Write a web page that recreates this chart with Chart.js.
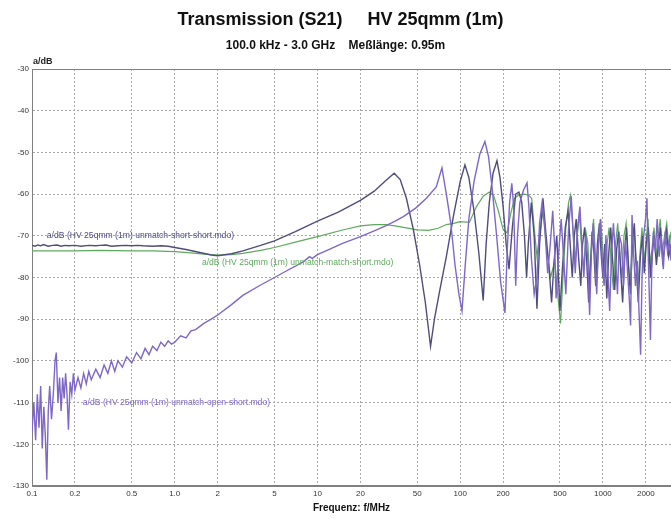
<!DOCTYPE html>
<html>
<head>
<meta charset="utf-8">
<script src="https://cdn.jsdelivr.net/npm/chart.js@4.4.0/dist/chart.umd.min.js"></script>
<style>
html, body { margin: 0; padding: 0; background: #fff; }
#wrap { width: 671px; height: 519px; }
</style>
</head>
<body>
<div id="wrap"><canvas id="s21Chart"></canvas></div>
<script>
// x ticks (MHz, log scale)
const xTickValues = [0.1, 0.2, 0.5, 1, 2, 5, 10, 20, 50, 100, 200, 500, 1000, 2000];
const xTickLabels = ['0.1', '0.2', '0.5', '1.0', '2', '5', '10', '20', '50', '100', '200', '500', '1000', '2000'];

// unmatch-short-short
const ssFreq = [0.1, 0.105, 0.11, 0.115, 0.12, 0.13, 0.14, 0.15, 0.16, 0.17,
    0.18, 0.2, 0.22, 0.25, 0.28, 0.3, 0.33, 0.36, 0.4, 0.45,
    0.5, 0.55, 0.6, 0.7, 0.8, 0.9, 1.0, 1.2, 1.5, 1.8,
    2.0, 2.5, 3, 4, 5, 7, 10, 14, 20, 25,
    30, 34.5, 38, 42, 47, 52, 57, 62, 66, 72,
    80, 90, 100, 108, 115, 125, 135, 145, 152, 160,
    170, 181, 190, 200, 210, 220, 232, 245, 258, 270,
    282, 292, 300, 315, 330, 345, 360, 380, 400, 420,
    437, 455, 475, 500, 520, 545, 570, 590, 610, 630,
    650, 675, 700, 720, 745, 770, 795, 815, 840, 865,
    890, 915, 945, 975, 1000, 1030, 1065, 1100, 1135, 1170,
    1210, 1250, 1290, 1330, 1375, 1420, 1465, 1510, 1560, 1610,
    1660, 1715, 1770, 1830, 1890, 1950, 2010, 2080, 2150, 2220,
    2290, 2370, 2450, 2530, 2620, 2700, 2790, 2890, 3000];
const ssDb = [-72.3, -72.5, -72.2, -72.4, -72.1, -72.5, -72.3, -72.2, -72.5, -72.3,
    -72.4, -72.3, -72.5, -72.3, -72.4, -72.3, -72.2, -72.5, -72.4, -72.3,
    -72.4, -72.3, -72.4, -72.5, -72.4, -72.5, -72.8, -73.3, -74.0, -74.6,
    -74.8, -74.3, -73.6, -72.3, -71.2, -69.0, -66.5, -64.3, -61.5, -59.3,
    -56.8, -55.0, -56.5, -61, -68.5, -77, -86, -96.5, -90, -83,
    -75, -65, -57, -53, -56, -64, -74, -85.5, -72, -62,
    -55, -52, -56, -63, -72, -78, -68, -60, -59.5, -62,
    -70, -80, -72, -62, -70, -87.5, -72, -61, -70, -78,
    -86, -76, -70, -88, -78, -68, -64, -72, -80, -70,
    -66, -75, -82, -72, -68, -76, -86, -78, -69, -74,
    -82, -72, -67, -75, -80, -72, -85, -74, -68, -76,
    -83, -73, -69, -78, -86, -74, -68, -77, -84, -72,
    -67, -78, -86, -75, -70, -79, -72, -68, -80, -74,
    -70, -77, -72, -68, -76, -73, -69, -75, -72];

// unmatch-match-short
const msFreq = [0.1, 0.2, 0.3, 0.5, 0.7, 1.0, 1.3, 1.6, 2.0, 2.5,
    3, 4, 5, 7, 10, 15, 20, 25, 30, 35,
    40, 50, 60, 70, 80, 90, 100, 116, 130, 145,
    160, 172, 185, 200, 213, 225, 240, 258, 280, 300,
    317, 330, 345, 360, 380, 400, 430, 460, 485, 505,
    525, 550, 575, 594, 615, 640, 660, 685, 710, 735,
    760, 785, 810, 835, 860, 885, 910, 940, 970, 1000,
    1035, 1070, 1105, 1145, 1185, 1225, 1270, 1315, 1360, 1405,
    1455, 1500, 1550, 1600, 1650, 1700, 1760, 1820, 1880, 1940,
    2000, 2070, 2140, 2210, 2280, 2360, 2440, 2520, 2610, 2700,
    2800, 2900, 3000];
const msDb = [-73.6, -73.6, -73.5, -73.6, -73.6, -73.8, -74.1, -74.4, -74.6, -74.5,
    -74.2, -73.5, -72.8, -71.5, -70.2, -68.6, -67.6, -67.3, -67.3, -67.6,
    -68.0, -68.6, -68.7, -68.2, -67.3, -67, -66.6, -66.8, -63, -60.5,
    -59.5, -60.5, -64, -68.5, -69.3, -65, -61, -60.2, -60, -60.2,
    -61, -68, -75, -70, -64, -72, -80, -76, -85, -91,
    -80, -68, -62, -60.2, -68, -76, -70, -65, -73, -78,
    -69, -72, -82, -72, -66, -74, -80, -70, -67, -74,
    -80, -72, -68, -77, -83, -72, -67, -75, -80, -70,
    -67, -76, -82, -72, -68, -75, -82, -74, -68, -76,
    -72, -66, -77, -73, -68, -75, -70, -66, -74, -70,
    -67, -73, -69];

// unmatch-open-short
const osFreq = [0.1, 0.103, 0.106, 0.109, 0.112, 0.115, 0.118, 0.121, 0.124, 0.127,
    0.13, 0.133, 0.137, 0.141, 0.145, 0.148, 0.152, 0.156, 0.16, 0.164,
    0.168, 0.172, 0.176, 0.18, 0.185, 0.19, 0.195, 0.2, 0.21, 0.22,
    0.23, 0.24, 0.25, 0.26, 0.28, 0.3, 0.32, 0.34, 0.36, 0.38,
    0.4, 0.43, 0.46, 0.5, 0.54, 0.58, 0.62, 0.66, 0.7, 0.75,
    0.8, 0.85, 0.9, 0.95, 1.0, 1.1, 1.2, 1.3, 1.4, 1.6,
    1.8, 2.0, 2.5, 3, 4, 5, 6, 7, 8, 8.8,
    9.2, 10, 12, 15, 20, 25, 30, 35, 40, 49,
    58, 68, 74.5, 80, 86, 92, 98, 103, 108, 115,
    125, 137, 149, 158, 168, 180, 192, 206, 214, 222,
    230, 237, 245, 252, 262, 278, 294, 303, 315, 330,
    345, 360, 375, 392, 410, 428, 445, 458, 470, 490,
    510, 530, 550, 575, 600, 620, 640, 665, 690, 712,
    735, 760, 785, 807, 830, 855, 880, 905, 930, 960,
    990, 1020, 1050, 1080, 1115, 1150, 1185, 1225, 1265, 1305,
    1350, 1395, 1440, 1490, 1530, 1563, 1600, 1640, 1690, 1740,
    1790, 1837, 1880, 1930, 1990, 2035, 2080, 2120, 2153, 2200,
    2260, 2330, 2400, 2480, 2560, 2650, 2740, 2840, 2930, 3000];
const osDb = [-117, -110, -119, -108, -116, -106, -121, -111, -118, -128.5,
    -112, -106, -114, -108, -100, -98, -110, -104, -112, -104,
    -109, -103, -108, -116.5, -105, -108, -103, -107, -104, -106.5,
    -103, -105.5, -102.5, -104.5, -102, -104, -101, -103, -100, -102.5,
    -100, -101.5, -99, -100.5, -98, -99.5, -97, -98.5, -96.5, -97.5,
    -95.5, -96.5, -95.2, -96, -95.5, -94, -94.5, -92.8, -92.5, -91,
    -90, -89, -86.5, -84.3, -81.8, -80, -78.5, -77.3, -76.2, -75,
    -75.4, -74.5, -73.3, -71.8, -70.2, -68.8, -67.6, -66.5, -65.4, -63.3,
    -61, -58.3, -53.7, -60, -67, -77, -84, -88, -78, -66,
    -57, -50.5, -47.4, -51, -59, -70, -81, -88.5, -73, -62,
    -57.4, -63, -82, -70, -62, -59, -57.3, -63, -75, -84,
    -80, -67, -62, -68, -79, -72, -64, -72, -85, -74,
    -66, -75, -84, -68, -60.5, -70, -79, -68, -63, -72,
    -80, -70, -76, -89, -74, -67, -76, -84, -72, -66,
    -76, -82, -70, -78, -88, -74, -67, -75, -84, -70,
    -72, -82, -71, -79, -85, -91.5, -65, -74, -82, -76,
    -88, -98.5, -80, -70, -66, -61, -75, -86, -95, -78,
    -69, -74, -66, -75, -70, -78, -69, -74, -71, -76];

const toPoints = (freq, db) => freq.map((f, i) => ({ x: f, y: db[i] }));

const colShort = '#4f4d7c';
const colMatch = '#5fa95f';
const colOpen = '#7f67c6';
const smallFont = "'Liberation Sans Narrow', 'Liberation Sans', Arial, sans-serif";
const textFont = "'Liberation Sans', Arial, sans-serif";

// series labels written inside the plot (anchored in data space)
const seriesNotes = [
    { text: 'a/dB (HV 25qmm (1m) unmatch-short-short.mdo)', f: 0.127, db: -70, color: colShort },
    { text: 'a/dB (HV 25qmm (1m) unmatch-match-short.mdo)', f: 1.55, db: -76.5, color: colMatch },
    { text: 'a/dB (HV 25qmm (1m) unmatch-open-short.mdo)', f: 0.227, db: -110, color: colOpen }
];

const chartAreaBorder = {
    id: 'chartAreaBorder',
    beforeDatasetsDraw(chart) {
        const { ctx, chartArea: { left, top, width, height } } = chart;
        ctx.save();
        ctx.strokeStyle = '#808080';
        ctx.lineWidth = 1;
        ctx.strokeRect(left + 0.5, top + 0.5, width, height - 1);
        ctx.restore();
    }
};

const notesPlugin = {
    id: 'seriesNotes',
    afterDatasetsDraw(chart) {
        const { ctx, chartArea, scales: { x, y } } = chart;
        ctx.save();
        ctx.textBaseline = 'middle';
        ctx.textAlign = 'left';
        ctx.font = '8.6px ' + textFont;
        seriesNotes.forEach(n => {
            ctx.fillStyle = n.color;
            ctx.fillText(n.text, x.getPixelForValue(n.f), y.getPixelForValue(n.db));
        });
        // unit label above the y axis
        ctx.fillStyle = '#222';
        ctx.font = 'bold 9px ' + textFont;
        ctx.fillText('a/dB', chartArea.left + 1, chartArea.top - 7);
        ctx.restore();
    }
};

new Chart(document.getElementById('s21Chart'), {
    type: 'line',
    data: {
        datasets: [
            {
                label: seriesNotes[2].text,
                data: toPoints(osFreq, osDb),
                borderColor: colOpen,
                borderWidth: 1.4,
                pointRadius: 0,
                tension: 0
            },
            {
                label: seriesNotes[0].text,
                data: toPoints(ssFreq, ssDb),
                borderColor: colShort,
                borderWidth: 1.4,
                pointRadius: 0,
                tension: 0
            },
            {
                label: seriesNotes[1].text,
                data: toPoints(msFreq, msDb),
                borderColor: colMatch,
                borderWidth: 1.2,
                pointRadius: 0,
                tension: 0
            }
        ]
    },
    options: {
        responsive: true,
        maintainAspectRatio: false,
        animation: false,
        layout: { padding: { left: 0, right: 0, top: 0, bottom: 0 } },
        plugins: {
            legend: { display: false },
            tooltip: { enabled: false },
            title: {
                display: true,
                text: '  Transmission (S21)     HV 25qmm (1m)',
                color: '#111',
                font: { size: 18, weight: 'bold', family: textFont },
                padding: { top: 9, bottom: 7 }
            },
            subtitle: {
                display: true,
                text: '100.0 kHz - 3.0 GHz    Meßlänge: 0.95m',
                color: '#111',
                font: { size: 12, weight: 'bold', family: textFont },
                padding: { top: 1, bottom: 16 }
            }
        },
        scales: {
            x: {
                type: 'logarithmic',
                min: 0.1,
                max: 3000,
                afterBuildTicks: (axis) => {
                    axis.ticks = xTickValues.map(v => ({ value: v }));
                },
                afterFit: (scale) => { scale.height = 33; },
                ticks: {
                    autoSkip: false,
                    maxRotation: 0,
                    minRotation: 0,
                    padding: 3,
                    color: '#333',
                    font: { size: 8, family: smallFont },
                    callback: (value, index) => xTickLabels[index]
                },
                grid: { color: '#a8a8a8', drawTicks: false, lineWidth: 1 },
                border: { display: true, color: '#808080', dash: [2, 2] },
                title: {
                    display: true,
                    text: 'Frequenz: f/MHz',
                    color: '#111',
                    font: { size: 10, weight: 'bold', family: textFont },
                    padding: { top: 0, bottom: 5 }
                }
            },
            y: {
                min: -130,
                max: -30,
                afterFit: (scale) => { scale.width = 32; },
                ticks: {
                    stepSize: 10,
                    padding: 3,
                    color: '#333',
                    font: { size: 8, family: smallFont }
                },
                grid: { color: '#a8a8a8', drawTicks: false, lineWidth: 1 },
                border: { display: true, color: '#808080', dash: [2, 2] }
            }
        }
    },
    plugins: [chartAreaBorder, notesPlugin]
});
</script>
</body>
</html>
